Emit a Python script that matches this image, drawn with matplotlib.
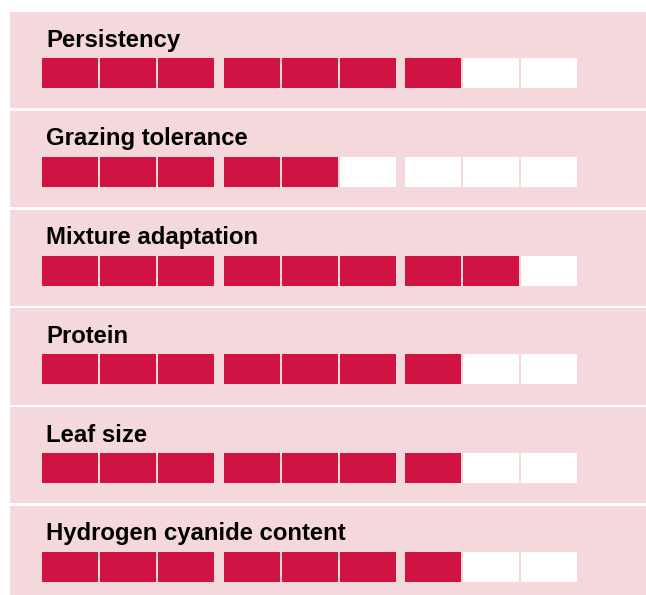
import numpy as np
import matplotlib.pyplot as plt

# trait ratings, scored out of 9 blocks
traits = ['Persistency', 'Grazing tolerance', 'Mixture adaptation',
          'Protein', 'Leaf size', 'Hydrogen cyanide content']
scores = [7, 5, 8, 7, 7, 7]
max_score = 9

red = '#D01342'
pink = '#F4D8DC'

W, H = 646, 595
fig = plt.figure(figsize=(W / 100, H / 100), dpi=100)
ax = fig.add_axes([0, 0, 1, 1])
ax.set_xlim(0, W)
ax.set_ylim(H, 0)
ax.axis('off')

top0 = 12
pitch = 98.75
sep = 2.5
panel_tops = top0 + pitch * np.arange(len(traits))

# pink panels
ax.bar(10, pitch - sep, width=W - 10, bottom=panel_tops, align='edge',
       color=pink, linewidth=0)

# block positions: three groups of three
j = np.arange(max_score)
block_x = 42 + (j // 3) * 181.5 + (j % 3) * 58
block_w = 56

for top, name, s in zip(panel_tops, traits, scores):
    ax.text(46.5, top + 34.5, name, fontsize=17.2, fontweight='bold',
            family=['Liberation Sans', 'DejaVu Sans'], va='baseline',
            ha='left', color='black')
    colors = [red if k < s else 'white' for k in j]
    ax.bar(block_x, 30, width=block_w, bottom=top + 46, align='edge',
           color=colors, linewidth=0)

fig.savefig('out.png', dpi=100)
